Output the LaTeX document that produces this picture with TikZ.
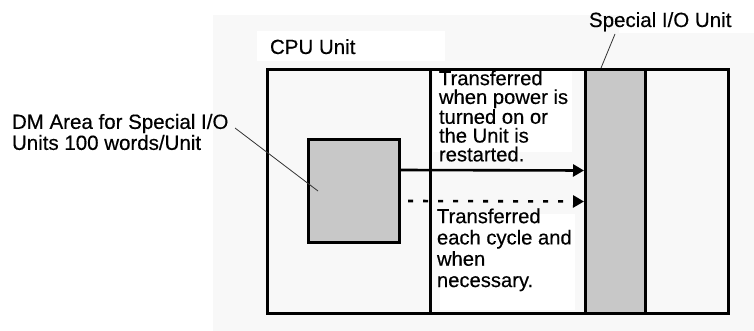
\documentclass[tikz,border=0pt]{standalone}
\usepackage{fontspec}
\setmainfont[FakeBold=0.4]{Liberation Sans}
\usetikzlibrary{arrows.meta}
\definecolor{bgpanel}{HTML}{F8F8F8}
\definecolor{unitgray}{HTML}{C8C8C8}
\begin{document}
\begin{tikzpicture}[x=1pt,y=-1pt,
  every node/.style={inner sep=0pt,outer sep=0pt},
  lbl/.style={font=\fontsize{20.5}{21}\selectfont,align=left},
  frame/.style={draw=black,line width=3pt},
  xfer/.style={line width=2.6pt,-{Triangle[length=11pt,width=12pt]}},
  leader/.style={draw=black!80,line width=0.8pt},
  whitepatch/.style={fill=white,draw=none}]
\useasboundingbox (0,0) rectangle (754,331);
\fill[white] (0,0) rectangle (754,331);
% background panel and white patches behind labels
\fill[bgpanel] (213,15) rectangle (754,331);
\fill[whitepatch] (619,0) rectangle (754,33);
\fill[whitepatch] (257,31) rectangle (445,61);
\fill[whitepatch] (433,71) rectangle (572,152);
\fill[whitepatch] (440,214) rectangle (575,310);
% units
\node[frame,minimum width=461pt,minimum height=243pt] (cpu) at (497.5,191.5) {};
\node[frame,fill=unitgray,minimum width=60pt,minimum height=243pt] (sio) at (615,191.5) {};
\draw[frame] ([xshift=163pt]cpu.north west) -- ([xshift=163pt]cpu.south west);
\node[frame,fill=unitgray,minimum width=91pt,minimum height=102pt] (dm) at (353.5,191) {};
% arrows
\draw[xfer] ([yshift=21pt]dm.east) -- ([xshift=-1pt,yshift=21pt]sio.west);
\draw[xfer,dash pattern=on 5pt off 10pt] ([xshift=9pt,yshift=-10pt]dm.east) -- ([xshift=-1pt,yshift=-10pt]sio.west);
% labels
\node[lbl,anchor=base west] (cpulbl) at (270,54) {CPU Unit};
\node[lbl,anchor=base west] (siolbl) at (589,27) {Special I/O Unit};
\node[lbl,anchor=north west] (dmlbl) at (12,114) {DM Area for Special I/O\\Units 100 words/Unit};
\node[lbl,anchor=north west,font=\fontsize{20.2}{18.8}\selectfont] (txtA) at (439,70.5) {Transferred\\when power is\\turned on or\\the Unit is\\restarted.};
\node[lbl,anchor=north west,font=\fontsize{20.2}{21.3}\selectfont] (txtB) at (437,208.5) {Transferred\\each cycle and\\when\\necessary.};
% leaders
\coordinate (dmA) at (235,128);
\coordinate (dmB) at (318,191);
\draw[leader] (dmA) -- (dmB);
\coordinate (sioA) at (615,34);
\coordinate (sioB) at (601,68);
\draw[leader] (sioA) -- (sioB);
\end{tikzpicture}
\end{document}
